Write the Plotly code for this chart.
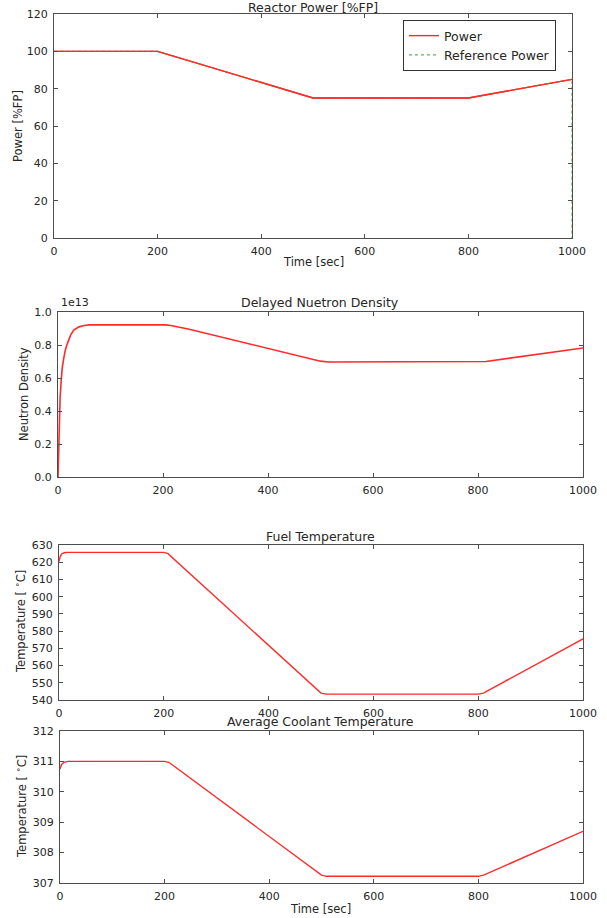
import plotly.graph_objects as go

W, H = 607, 918

# ---------------- data ----------------
t_power = [0, 200, 500, 800, 1000]
power = [100, 100, 75, 75, 85]

t_ref = [0, 200, 500, 800, 1000, 1000]
ref_power = [100, 100, 75, 75, 85, 0]

t_neutron = [0, 1, 2, 4, 6, 8, 11, 14, 18, 24, 30, 40, 50, 60, 205, 215, 250, 500, 515, 800, 815, 1000]
neutron = [0, 0.18, 0.3, 0.48, 0.58, 0.66, 0.72, 0.77, 0.81, 0.86, 0.89, 0.91, 0.918, 0.922,
           0.922, 0.918, 0.895, 0.702, 0.697, 0.697, 0.700, 0.782]  # x 1e13

t_fuel = [0, 2, 5, 10, 15, 200, 208, 500, 510, 800, 810, 1000]
fuel_temp = [620.5, 623.0, 624.8, 625.5, 625.7, 625.7, 625.0, 544.0, 543.4, 543.4, 544.0, 575.5]

t_cool = [0, 3, 8, 15, 200, 208, 500, 510, 800, 810, 1000]
cool_temp = [310.75, 310.9, 310.97, 311.0, 311.0, 310.97, 307.26, 307.22, 307.22, 307.26, 308.7]

x_ticks = [0, 200, 400, 600, 800, 1000]
power_ticks = [0, 20, 40, 60, 80, 100, 120]
neutron_ticks = [0.0, 0.2, 0.4, 0.6, 0.8, 1.0]
fuel_ticks = [540, 550, 560, 570, 580, 590, 600, 610, 620, 630]
cool_ticks = [307, 308, 309, 310, 311, 312]

# ---------------- layout helpers ----------------
def px(x):
    return x / W

def py(y):
    return 1 - y / H

TXT = "#262626"
LINE = "#4d4d4d"
FONT = "DejaVu Sans"
RED = "#ff2a2a"

panels = [  # left, right, top, bottom (pixels)
    (54, 572, 14, 238),
    (58, 583, 312, 477),
    (59, 583, 545, 700),
    (60, 583, 731, 883),
]

fig = go.Figure()

fig.add_trace(go.Scatter(x=t_power, y=power, mode="lines", name="Power",
                         line=dict(color=RED, width=1.4), xaxis="x", yaxis="y"))
fig.add_trace(go.Scatter(x=t_ref, y=ref_power, mode="lines", name="Reference Power",
                         line=dict(color="#55bb55", width=1.2, dash="dot"), xaxis="x", yaxis="y"))
fig.add_trace(go.Scatter(x=t_power, y=power, mode="lines", showlegend=False,
                         line=dict(color=RED, width=1.4), xaxis="x", yaxis="y"))
fig.add_trace(go.Scatter(x=t_neutron, y=neutron, mode="lines", showlegend=False,
                         line=dict(color=RED, width=1.6), xaxis="x2", yaxis="y2"))
fig.add_trace(go.Scatter(x=t_fuel, y=fuel_temp, mode="lines", showlegend=False,
                         line=dict(color=RED, width=1.4), xaxis="x3", yaxis="y3"))
fig.add_trace(go.Scatter(x=t_cool, y=cool_temp, mode="lines", showlegend=False,
                         line=dict(color=RED, width=1.4), xaxis="x4", yaxis="y4"))

yranges = [(0, 120), (0, 1.0), (540, 630), (307, 312)]
yticks = [power_ticks, neutron_ticks, fuel_ticks, cool_ticks]
yfmt = ["d", ".1f", "d", "d"]

common = dict(showline=True, linecolor=LINE, linewidth=1.2, mirror="allticks",
              ticks="inside", ticklen=4, tickcolor=LINE, showgrid=False, zeroline=False,
              automargin=False,
              tickfont=dict(family=FONT, size=11, color=TXT), ticklabelstandoff=3)

layout_axes = {}
for i, ((l, r, t, b), yr, yt, yf) in enumerate(zip(panels, yranges, yticks, yfmt)):
    n = "" if i == 0 else str(i + 1)
    layout_axes["xaxis" + n] = dict(domain=[px(l), px(r)], range=[0, 1000], tickvals=x_ticks,
                                    anchor="y" + n, **common)
    layout_axes["yaxis" + n] = dict(domain=[py(b), py(t)], range=list(yr), tickvals=yt,
                                    tickformat=yf, anchor="x" + n, **common)

annotations = []
def text(x, y, s, size=12, angle=0, xanchor="center", yanchor="middle"):
    annotations.append(dict(x=px(x), y=py(y), xref="paper", yref="paper", text=s,
                            showarrow=False, textangle=angle, xanchor=xanchor, yanchor=yanchor,
                            font=dict(family=FONT, size=size, color=TXT)))

deg = "Temperature [ <sup>∘</sup>C]"
text(313, 7, "Reactor Power [%FP]", 12.5)
text(320, 302, "Delayed Nuetron Density", 12.5)
text(321, 536, "Fuel Temperature", 12.5)
text(321, 721, "Average Coolant Temperature", 12.5)
text(313, 262, "Time [sec]", 11.5)
text(321, 909, "Time [sec]", 11.5)
text(18, 126, "Power [%FP]", 11.5, -90)
text(24, 394, "Neutron Density", 11.5, -90)
text(20, 622, deg, 11.5, -90)
text(21, 807, deg, 11.5, -90)
text(59, 303, "1e13", 11, xanchor="left")

fig.update_layout(
    width=W, height=H,
    margin=dict(l=0, r=0, t=0, b=0),
    paper_bgcolor="white", plot_bgcolor="white",
    font=dict(family=FONT, color=TXT),
    annotations=annotations,
    legend=dict(x=px(403), y=py(20), xanchor="left", yanchor="top",
                bordercolor="#333333", borderwidth=1, bgcolor="white",
                font=dict(family=FONT, size=12.5, color=TXT),
                tracegroupgap=0, itemwidth=30),
    **layout_axes,
)

fig.write_html("out.html", config={"displayModeBar": False},
               post_script="document.body.style.margin='0';document.body.style.overflow='hidden';")
